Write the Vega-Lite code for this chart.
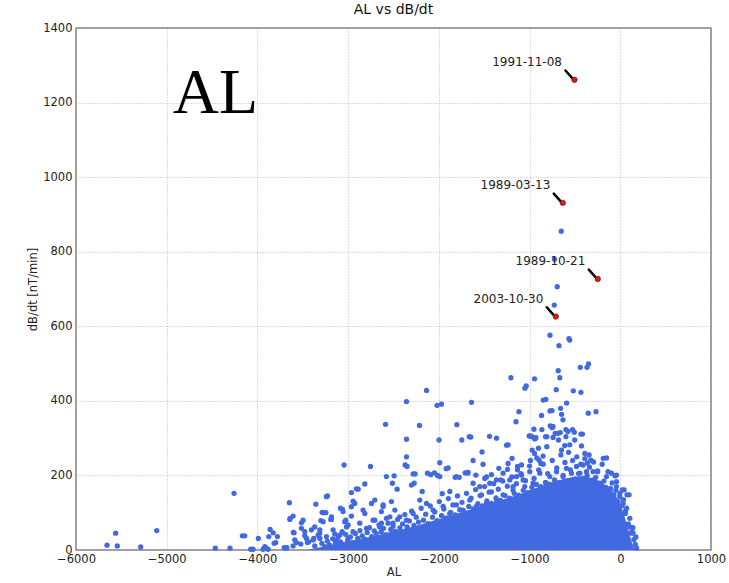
{
  "$schema": "https://vega.github.io/schema/vega-lite/v6.json",
  "autosize": "none",
  "width": 635,
  "height": 522,
  "padding": {"left": 76, "top": 28, "right": 18, "bottom": 33},
  "background": "white",
  "title": {"text": "AL vs dB/dt", "fontSize": 14, "font": "DejaVu Sans", "fontWeight": "normal", "color": "#111", "offset": 5},
  "config": {
    "view": {"stroke": "#808080", "strokeWidth": 1.5},
    "axis": {
      "domain": false, "ticks": false, "grid": true,
      "gridDash": [1, 2], "gridColor": "#a8a8a8", "gridWidth": 0.8,
      "labelFont": "DejaVu Sans", "labelFontSize": 11.5, "labelColor": "#222",
      "titleFont": "DejaVu Sans", "titleFontSize": 11.5, "titleFontWeight": "normal", "titleColor": "#222"
    }
  },
  "datasets": {
    "core": [
      {"x": -3450, "y": 0}, {"x": -3300, "y": 8}, {"x": -3100, "y": 18}, {"x": -2900, "y": 28},
      {"x": -2700, "y": 38}, {"x": -2500, "y": 50}, {"x": -2300, "y": 62}, {"x": -2100, "y": 76},
      {"x": -1900, "y": 90}, {"x": -1700, "y": 105}, {"x": -1500, "y": 120}, {"x": -1300, "y": 135},
      {"x": -1100, "y": 150}, {"x": -1000, "y": 160}, {"x": -800, "y": 178}, {"x": -600, "y": 192},
      {"x": -450, "y": 198}, {"x": -300, "y": 192}, {"x": -200, "y": 180}, {"x": -100, "y": 160},
      {"x": -20, "y": 132}, {"x": 40, "y": 95}, {"x": 90, "y": 52}, {"x": 130, "y": 18}, {"x": 160, "y": 0}
    ],
    "events": [
      {"x": -505, "y": 1261, "date": "1991-11-08"},
      {"x": -634, "y": 931, "date": "1989-03-13"},
      {"x": -248, "y": 727, "date": "1989-10-21"},
      {"x": -711, "y": 626, "date": "2003-10-30"}
    ],
    "label": [{"x": -4933, "y": 1172, "t": "AL"}],
    "pts": [
      {"x":-651,"y":855},{"x":-725,"y":780},{"x":-695,"y":706},{"x":-728,"y":657},{"x":-775,"y":576},{"x":-566,"y":567},{"x":-676,"y":548},{"x":-557,"y":563},
      {"x":-441,"y":490},{"x":-367,"y":490},{"x":-350,"y":499},{"x":-684,"y":481},{"x":-667,"y":462},{"x":-1206,"y":462},{"x":-945,"y":459},{"x":-1037,"y":440},{"x":-1051,"y":434},{"x":-706,"y":430},{"x":-518,"y":427},{"x":-434,"y":423},{"x":-849,"y":402},{"x":-820,"y":404},{"x":-592,"y":394},{"x":-1117,"y":371},{"x":-775,"y":373},{"x":-753,"y":374},{"x":-658,"y":380},{"x":-353,"y":367},{"x":-268,"y":371},{"x":-868,"y":361},{"x":-647,"y":364},{"x":-632,"y":349},{"x":-1150,"y":344},{"x":-772,"y":333},{"x":-742,"y":331},{"x":-750,"y":328},{"x":-864,"y":323},{"x":-952,"y":324},{"x":-599,"y":323},{"x":-577,"y":318},{"x":-526,"y":323},{"x":-507,"y":316},{"x":-717,"y":313},{"x":-684,"y":313},{"x":-662,"y":315},{"x":-434,"y":311},{"x":-824,"y":304},{"x":-993,"y":306},{"x":-1441,"y":305},{"x":-1364,"y":300},{"x":-599,"y":304},
      {"x":-2136,"y":428},{"x":-2357,"y":398},{"x":-2020,"y":388},{"x":-1971,"y":391},{"x":-1640,"y":396},{"x":-2588,"y":337},{"x":-2213,"y":334},{"x":-1802,"y":336},{"x":-2357,"y":297},{"x":-1998,"y":295},{"x":-1747,"y":295},{"x":-1648,"y":303},{"x":-1237,"y":282},{"x":-972,"y":304},{"x":-943,"y":298},
      {"x":-3045,"y":228},{"x":-2754,"y":224},{"x":-2357,"y":250},{"x":-2372,"y":228},{"x":-2350,"y":224},{"x":-1990,"y":234},{"x":-1524,"y":263},{"x":-1623,"y":240},{"x":-1513,"y":230},{"x":-1898,"y":220},{"x":-2262,"y":204},{"x":-2089,"y":202},{"x":-2015,"y":200},{"x":-1990,"y":197},{"x":-1806,"y":197},{"x":-1776,"y":195},{"x":-1684,"y":206},{"x":-1678,"y":208},{"x":-1420,"y":202},{"x":-1475,"y":196},{"x":-1339,"y":219},{"x":-1237,"y":232},{"x":-1193,"y":246},{"x":-1133,"y":224},{"x":-1089,"y":228},
      {"x":-972,"y":268},{"x":-946,"y":259},{"x":-920,"y":247},{"x":-895,"y":241},{"x":-876,"y":232},{"x":-902,"y":273},{"x":-851,"y":252},{"x":-810,"y":277},{"x":-810,"y":304},{"x":-747,"y":331},{"x":-741,"y":302},{"x":-681,"y":295},{"x":-648,"y":268},{"x":-612,"y":280},{"x":-557,"y":282},{"x":-502,"y":295},{"x":-417,"y":311},{"x":-428,"y":279},{"x":-391,"y":259},{"x":-344,"y":255},{"x":-362,"y":233},{"x":-325,"y":241},{"x":-300,"y":210},{"x":-251,"y":210},{"x":-190,"y":152},{"x":-108,"y":165},{"x":-42,"y":201},{"x":-42,"y":183},{"x":42,"y":161},{"x":97,"y":148},{"x":57,"y":105},{"x":105,"y":62},{"x":141,"y":46},{"x":-152,"y":247},{"x":-188,"y":246},{"x":-58,"y":199},{"x":22,"y":161},{"x":74,"y":148},{"x":125,"y":45},{"x":180,"y":5},{"x":36,"y":27},
      {"x":-5658,"y":13},{"x":-5563,"y":45},{"x":-5545,"y":11},{"x":-5287,"y":8},{"x":-5110,"y":52},{"x":-4464,"y":5},{"x":-4302,"y":5},{"x":-4258,"y":152},{"x":-4166,"y":38},{"x":-4140,"y":38},{"x":-4074,"y":2},{"x":-4048,"y":2},{"x":-3990,"y":31},{"x":-3875,"y":36},{"x":-3860,"y":55},{"x":-3827,"y":46},{"x":-3912,"y":7},{"x":-3883,"y":2},{"x":-3780,"y":36},{"x":-3798,"y":20},{"x":-3705,"y":6},{"x":-3676,"y":6},{"x":-3648,"y":127},{"x":-3640,"y":85},{"x":-3607,"y":91},{"x":-3596,"y":46},{"x":-3570,"y":20},{"x":-3515,"y":73},{"x":-3515,"y":58},{"x":-3478,"y":49},{"x":-3356,"y":123},{"x":-3228,"y":145},{"x":-3276,"y":100},{"x":-3246,"y":100},{"x":-3184,"y":82},{"x":-3063,"y":109},{"x":-2964,"y":154},{"x":-2945,"y":131},{"x":-3037,"y":76},{"x":-3000,"y":67},{"x":-2964,"y":91},{"x":-3405,"y":54},{"x":-3331,"y":40},{"x":-3434,"y":22},{"x":-3368,"y":11},{"x":-3816,"y":18},{"x":-3919,"y":9},{"x":-3938,"y":2},{"x":-3643,"y":82},{"x":-3604,"y":47},{"x":-3478,"y":38},{"x":-3588,"y":27},{"x":-3607,"y":11},{"x":-3692,"y":6},{"x":-3287,"y":101},{"x":-3191,"y":82},{"x":-3301,"y":79},{"x":-3312,"y":54},{"x":-3312,"y":31},{"x":-3379,"y":31},{"x":-3449,"y":20},{"x":-3522,"y":16},{"x":-3085,"y":112},{"x":-2909,"y":164},{"x":-2816,"y":177},{"x":-2964,"y":116},{"x":-3026,"y":80},{"x":-3066,"y":49},{"x":-3125,"y":27},{"x":-3147,"y":43},{"x":-3000,"y":31},{"x":-2743,"y":125},{"x":-2614,"y":121},{"x":-2633,"y":103},{"x":-2523,"y":130},{"x":-2485,"y":107},{"x":-2578,"y":197},{"x":-2493,"y":199},{"x":-2816,"y":98},{"x":-2706,"y":80},{"x":-2633,"y":72},{"x":-2540,"y":89},{"x":-2890,"y":163},{"x":-3240,"y":143},{"x":-2512,"y":179},{"x":-2460,"y":163},{"x":-2302,"y":174},{"x":-2272,"y":179},{"x":-2184,"y":157},{"x":-1963,"y":151},{"x":-1879,"y":157},{"x":-1316,"y":188},{"x":-1243,"y":216},{"x":-1133,"y":215},{"x":-1089,"y":201},{"x":-2283,"y":204},{"x":-2125,"y":206},{"x":-2048,"y":207},{"x":-1919,"y":218},{"x":-1820,"y":195},{"x":-1710,"y":207},{"x":-1592,"y":201},{"x":-1665,"y":304},{"x":-1254,"y":281},{"x":-1004,"y":306},{"x":-930,"y":301},
      {"x":-1623,"y":179},{"x":-1549,"y":170},{"x":-1494,"y":192},{"x":-1439,"y":179},{"x":-1365,"y":188},{"x":-1292,"y":206},{"x":-1218,"y":188},{"x":-1182,"y":170},{"x":-1144,"y":197},{"x":-1071,"y":188},{"x":-998,"y":210},{"x":-961,"y":179},{"x":-887,"y":206},{"x":-814,"y":179},{"x":-777,"y":197},{"x":-703,"y":210},{"x":-631,"y":197},{"x":-593,"y":219},{"x":-538,"y":206},{"x":-483,"y":224},{"x":-446,"y":206},{"x":-410,"y":228},{"x":-373,"y":210},{"x":-300,"y":188},{"x":-226,"y":179},{"x":-152,"y":197},{"x":-97,"y":206},{"x":-42,"y":170},{"x":-6,"y":143},{"x":31,"y":125},
      {"x":-2136,"y":125},{"x":-2064,"y":107},{"x":-1953,"y":117},{"x":-1880,"y":98},{"x":-1806,"y":121},{"x":-1733,"y":107},{"x":-1659,"y":134},{"x":-1585,"y":117},{"x":-1530,"y":148},{"x":-1475,"y":125},{"x":-1420,"y":156},{"x":-1365,"y":134},{"x":-1292,"y":148},{"x":-1237,"y":130},{"x":-1182,"y":161},{"x":-1108,"y":143},{"x":-1053,"y":170},{"x":-2284,"y":98},{"x":-2357,"y":80},{"x":-2431,"y":89},{"x":-2505,"y":72},{"x":-2578,"y":85},{"x":-2651,"y":62},{"x":-2725,"y":80},{"x":-2798,"y":58},{"x":-2872,"y":72},{"x":-2946,"y":49},{"x":-3018,"y":62},{"x":-3092,"y":40},{"x":-3166,"y":54},{"x":-3239,"y":36},{"x":-3313,"y":45},{"x":-3387,"y":27},{"x":-3459,"y":31},{"x":-2210,"y":134},{"x":-2615,"y":117},{"x":-2706,"y":134},{"x":-2835,"y":107},{"x":-2927,"y":125},{"x":-3056,"y":103},{"x":-3184,"y":89},{"x":-3276,"y":76},{"x":-3368,"y":62},{"x":-3497,"y":80},
      {"x":-3290,"y":18},{"x":-3255,"y":9},{"x":-3230,"y":24},{"x":-3205,"y":14},{"x":-3170,"y":30},{"x":-3140,"y":19},{"x":-3110,"y":36},{"x":-3085,"y":22},{"x":-3060,"y":15},{"x":-3030,"y":42},{"x":-3005,"y":26},{"x":-2975,"y":35},{"x":-2950,"y":20},{"x":-2920,"y":44},{"x":-2895,"y":31},{"x":-2870,"y":52},{"x":-2845,"y":38},{"x":-2820,"y":29},{"x":-2790,"y":47},{"x":-2765,"y":60},{"x":-2740,"y":36},{"x":-2712,"y":51},{"x":-2690,"y":44},{"x":-2660,"y":67},{"x":-2635,"y":49},{"x":-2610,"y":58},{"x":-2585,"y":41},{"x":-2560,"y":72},{"x":-2530,"y":55},{"x":-2505,"y":64},
      {"x":-2480,"y":50},{"x":-2455,"y":82},{"x":-2430,"y":59},{"x":-2400,"y":70},{"x":-2375,"y":95},{"x":-2350,"y":62},{"x":-2325,"y":78},{"x":-2300,"y":104},{"x":-2275,"y":66},{"x":-2250,"y":88},{"x":-2225,"y":75},{"x":-2195,"y":112},{"x":-2170,"y":80},{"x":-2145,"y":96},{"x":-2120,"y":71},{"x":-2095,"y":118},{"x":-2070,"y":88},{"x":-2045,"y":102},{"x":-2020,"y":79},{"x":-1995,"y":130},{"x":-1970,"y":92},{"x":-1945,"y":110},{"x":-1920,"y":86},{"x":-1895,"y":138},{"x":-1870,"y":101},{"x":-1845,"y":121},{"x":-1820,"y":94},{"x":-1795,"y":145},{"x":-1770,"y":108},{"x":-1745,"y":128},{"x":-1720,"y":100},{"x":-1695,"y":152},{"x":-1670,"y":117},{"x":-1645,"y":139},{"x":-1620,"y":110},{"x":-1595,"y":162},{"x":-1570,"y":124},{"x":-1545,"y":146},{"x":-1520,"y":118},
      {"x":-1495,"y":170},{"x":-1470,"y":132},{"x":-1445,"y":155},{"x":-1420,"y":125},{"x":-1395,"y":178},{"x":-1370,"y":140},{"x":-1345,"y":163},{"x":-1320,"y":133},{"x":-1295,"y":185},{"x":-1270,"y":146},{"x":-1245,"y":171},{"x":-1220,"y":139},{"x":-1195,"y":196},{"x":-1170,"y":152},{"x":-1145,"y":178},{"x":-1120,"y":147},{"x":-1095,"y":205},{"x":-1070,"y":160},{"x":-1045,"y":186},{"x":-1020,"y":154},{"x":-1000,"y":225},{"x":-990,"y":240},{"x":-975,"y":168},{"x":-950,"y":192},{"x":-925,"y":176},{"x":-900,"y":215},{"x":-875,"y":170},{"x":-850,"y":230},{"x":-825,"y":181},{"x":-800,"y":205},{"x":-775,"y":176},{"x":-750,"y":240},{"x":-725,"y":188},{"x":-700,"y":220},{"x":-680,"y":180},{"x":-655,"y":255},{"x":-630,"y":200},{"x":-610,"y":235},{"x":-590,"y":185},
      {"x":-570,"y":262},{"x":-550,"y":215},{"x":-525,"y":240},{"x":-505,"y":190},{"x":-480,"y":250},{"x":-460,"y":205},{"x":-435,"y":230},{"x":-410,"y":192},{"x":-390,"y":245},{"x":-365,"y":200},{"x":-340,"y":222},{"x":-320,"y":185},{"x":-295,"y":236},{"x":-270,"y":195},{"x":-250,"y":212},{"x":-225,"y":175},{"x":-200,"y":230},{"x":-180,"y":185},{"x":-160,"y":168},{"x":-135,"y":210},{"x":-115,"y":158},{"x":-90,"y":180},{"x":-70,"y":148},{"x":-50,"y":160},{"x":-25,"y":130},{"x":-5,"y":152},{"x":15,"y":118},{"x":35,"y":135},{"x":55,"y":98},{"x":70,"y":112},{"x":88,"y":70},{"x":105,"y":85},{"x":120,"y":48},{"x":138,"y":60},{"x":150,"y":28},{"x":165,"y":15},{"x":172,"y":35}
    ]
  },
  "encoding": {
    "x": {"field": "x", "type": "quantitative",
      "scale": {"domain": [-6000, 1000], "nice": false, "zero": false},
      "axis": {"title": "AL", "values": [-6000, -5000, -4000, -3000, -2000, -1000, 0, 1000], "format": "d", "labelPadding": 3, "titlePadding": 2, "labelFlush": false}},
    "y": {"field": "y", "type": "quantitative",
      "scale": {"domain": [0, 1400], "nice": false},
      "axis": {"title": "dB/dt [nT/min]", "values": [0, 200, 400, 600, 800, 1000, 1200, 1400], "format": "d", "labelPadding": 4, "titlePadding": 4, "labelFlush": false}}
  },
  "layer": [
    {"data": {"name": "core"}, "mark": {"type": "area", "color": "#4169e1", "interpolate": "monotone"}},
    {"data": {"name": "pts"}, "mark": {"type": "point", "filled": true, "size": 28, "color": "#4169e1", "opacity": 1}},
    {"data": {"name": "events"}, "mark": {"type": "point", "filled": false, "shape": "M -0.9 -0.93 L -0.25 -0.2", "size": 400, "stroke": "black", "strokeWidth": 2.5, "strokeCap": "round", "opacity": 1}},
    {"data": {"name": "events"}, "mark": {"type": "point", "filled": true, "size": 30, "color": "#ee1111", "stroke": "#222", "strokeWidth": 0.6, "opacity": 1}},
    {"data": {"name": "events"}, "mark": {"type": "text", "align": "right", "baseline": "middle", "dx": -12.5, "dy": -18, "fontSize": 12, "font": "DejaVu Sans", "color": "#222"}, "encoding": {"text": {"field": "date"}}},
    {"data": {"name": "label"}, "mark": {"type": "text", "align": "left", "baseline": "alphabetic", "fontSize": 64, "font": "Liberation Serif", "color": "black"}, "encoding": {"text": {"field": "t"}}}
  ]
}
